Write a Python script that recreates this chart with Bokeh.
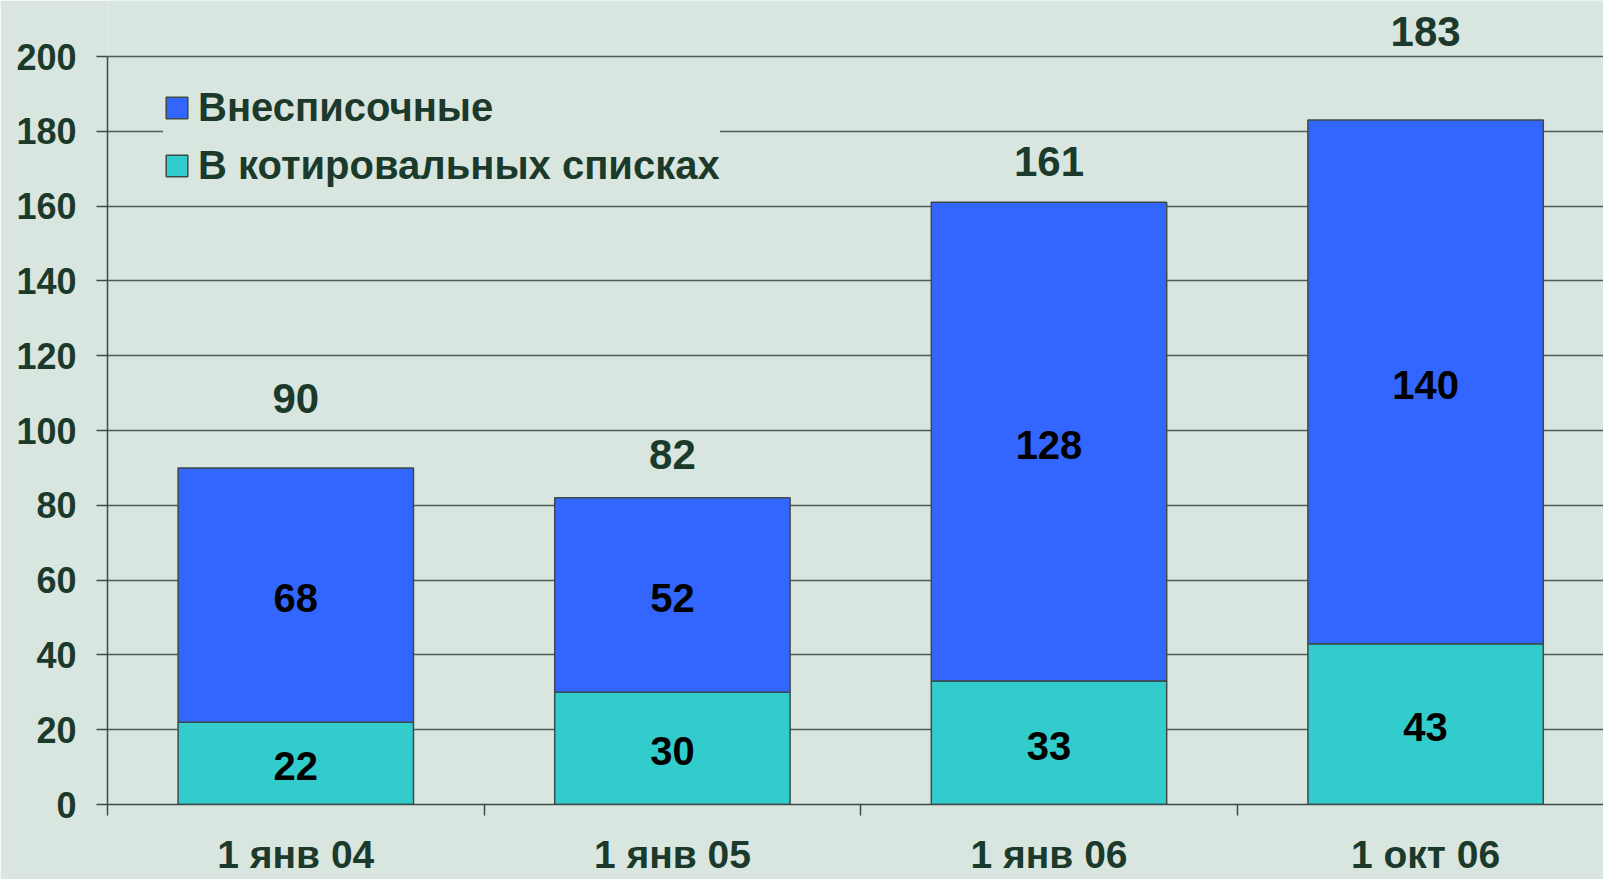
from bokeh.plotting import figure
from bokeh.models import (ColumnDataSource, LabelSet, Legend, LegendItem,
                          FixedTicker, Range1d)
from bokeh.core.properties import value
from bokeh.embed import file_html
from bokeh.resources import INLINE

# ---- data ----
categories = ["1 янв 04", "1 янв 05", "1 янв 06", "1 окт 06"]
listed = [22, 30, 33, 43]            # В котировальных списках
unlisted = [68, 52, 128, 140]        # Внесписочные
totals = [90, 82, 161, 183]
y_ticks = [0, 20, 40, 60, 80, 100, 120, 140, 160, 180, 200]
series_names = ["Внесписочные", "В котировальных списках"]

# ---- style / placement ----
FONT = "Liberation Sans"
TXT = "#1b3a2b"
BG = "#d9e6df"
BLUE = "#3366ff"
TEAL = "#33cccc"
EDGE = "#3c4a48"
GRID = "#4f5b57"
total_offsets_px = [69, 43, 41, 89]   # manual placement of total labels above bars

W, H = 1603, 879
BORDER_L, BORDER_B = 107, 75
frame_h = H - BORDER_B
px_per_unit = (frame_h - 56) / 200.0
y_end = frame_h / px_per_unit
cat_px = 376.6
x_end = (W - BORDER_L) / cat_px

n = len(categories)
centers = [i + 0.5 for i in range(n)]
bounds = [float(i) for i in range(n)]
listed_mid = [v / 2.0 for v in listed]
unlisted_mid = [l + u / 2.0 for l, u in zip(listed, unlisted)]
stack_top = [l + u for l, u in zip(listed, unlisted)]

src = ColumnDataSource(dict(
    x=centers, cat=categories, listed=listed, unlisted=unlisted,
    totals=totals, stack_top=stack_top, zero=[0] * n,
    listed_mid=listed_mid, unlisted_mid=unlisted_mid,
    listed_txt=[str(v) for v in listed], unlisted_txt=[str(v) for v in unlisted],
    totals_txt=[str(v) for v in totals], toff=total_offsets_px,
))

p = figure(width=W, height=H, output_backend="svg", toolbar_location=None,
           x_range=Range1d(0, x_end), y_range=Range1d(0, y_end),
           min_border_left=BORDER_L, min_border_right=0, min_border_top=0,
           min_border_bottom=BORDER_B)
p.background_fill_color = BG
p.border_fill_color = BG
p.outline_line_color = None

r_teal = p.vbar(x="x", width=0.625, bottom="zero", top="listed", source=src,
                fill_color=TEAL, line_color=EDGE, line_width=1.5)
r_blue = p.vbar(x="x", width=0.625, bottom="listed", top="stack_top", source=src,
                fill_color=BLUE, line_color=EDGE, line_width=1.5)

# y axis
yax = p.yaxis[0]
yax.ticker = FixedTicker(ticks=y_ticks)
yax.bounds = (0, 200)
yax.major_tick_out = 11
yax.major_tick_in = 0
yax.minor_tick_out = 0
yax.minor_tick_in = 0
yax.axis_line_color = EDGE
yax.axis_line_width = 1.5
yax.major_tick_line_color = EDGE
yax.major_tick_line_width = 1.5
yax.major_label_standoff = 20
yax.major_label_text_font = FONT
yax.major_label_text_font_style = "bold"
yax.major_label_text_font_size = "36px"
yax.major_label_text_color = TXT

# x axis: labels at category centres, ticks at category boundaries
xax = p.xaxis[0]
xax.ticker = FixedTicker(ticks=centers, minor_ticks=bounds)
xax.major_label_overrides = {c: cat for c, cat in zip(centers, categories)}
xax.major_tick_out = 0
xax.major_tick_in = 0
xax.minor_tick_out = 11
xax.minor_tick_in = 0
xax.minor_tick_line_color = EDGE
xax.minor_tick_line_width = 1.5
xax.axis_line_color = EDGE
xax.axis_line_width = 1.5
xax.major_label_standoff = 17
xax.major_label_text_font = FONT
xax.major_label_text_font_style = "bold"
xax.major_label_text_font_size = "39px"
xax.major_label_text_color = TXT

p.xgrid.grid_line_color = None
p.ygrid.ticker = FixedTicker(ticks=y_ticks)
p.ygrid.grid_line_color = GRID
p.ygrid.grid_line_width = 1.5

# value labels
common = dict(source=src, text_align="center", text_baseline="middle",
              text_font=value(FONT), text_font_style="bold")
p.add_layout(LabelSet(x="x", y="listed_mid", text="listed_txt", y_offset=-3,
                      text_font_size="40px", text_color="black", **common))
p.add_layout(LabelSet(x="x", y="unlisted_mid", text="unlisted_txt", y_offset=-3,
                      text_font_size="40px", text_color="black", **common))
p.add_layout(LabelSet(x="x", y="totals", text="totals_txt", y_offset="toff",
                      text_font_size="42px", text_color=TXT, **common))

legend = Legend(items=[LegendItem(label=series_names[0], renderers=[r_blue]),
                       LegendItem(label=series_names[1], renderers=[r_teal])],
                location=(56, 616), orientation="vertical",
                background_fill_color=BG, background_fill_alpha=1.0,
                border_line_color=None, glyph_width=27, glyph_height=27,
                label_standoff=8, spacing=13, padding=20,
                label_text_font=FONT, label_text_font_style="bold",
                label_text_font_size="40px", label_text_color=TXT)
p.add_layout(legend, "center")

open("out.html", "w").write(file_html(p, INLINE))
